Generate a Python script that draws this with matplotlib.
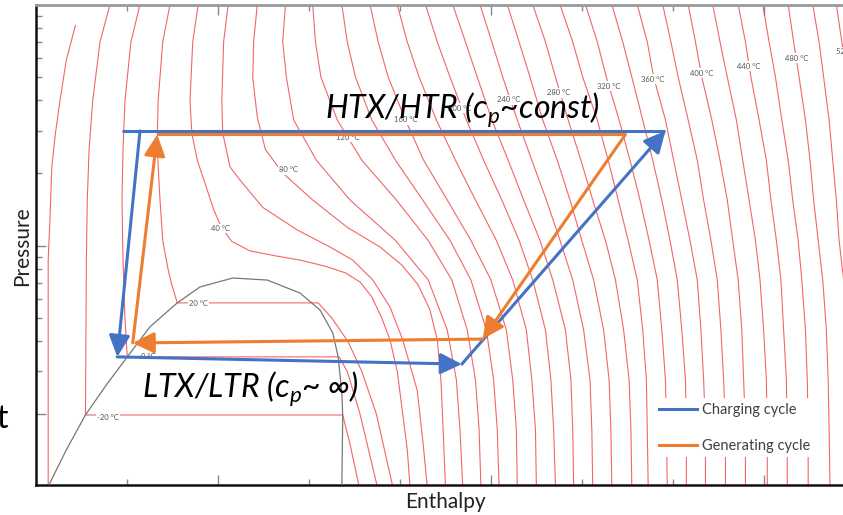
import matplotlib

matplotlib.use("Agg")

import matplotlib.pyplot as plt
from matplotlib.lines import Line2D
from matplotlib.ticker import FixedLocator, NullFormatter

# ---------------------------------------------------------------------------
# Data (CO2 pressure-enthalpy chart)
# enthalpy in kJ/kg, pressure in MPa
# ---------------------------------------------------------------------------

# pressure levels at which the supercritical isotherms were read
ISO_P = [100, 70, 50, 33.2, 22.6, 15.45, 10.5, 7.2, 4.46, 2.77, 1.72, 1.0]

# enthalpy of each supercritical isotherm (degC -> values at ISO_P)
ISO_H = {
    100: [374, 371, 375, 383, 408, 445, 495, 531, 552, 562, 566, 569],
    120: [404, 407, 413, 431, 458, 496, 531, 557, 574, 583, 587, 589],
    140: [436, 442, 451, 469, 495, 525, 555, 578, 595, 603, 607, 609],
    160: [467, 476, 487, 506, 526, 552, 578, 600, 617, 624, 628, 629],
    180: [497, 508, 521, 540, 561, 583, 606, 624, 639, 645, 649, 650],
    200: [528, 541, 555, 573, 592, 612, 631, 646, 660, 666, 669, 671],
    220: [558, 572, 585, 601, 619, 636, 654, 668, 682, 688, 690, 691],
    240: [588, 601, 613, 629, 645, 661, 676, 690, 702, 709, 711, 712],
    260: [618, 631, 643, 657, 673, 687, 700, 713, 724, 730, 732, 733],
    280: [646, 660, 671, 685, 699, 712, 726, 737, 746, 752, 754, 755],
    300: [676, 690, 701, 717, 729, 740, 751, 761, 767, 771, 772, 773],
    320: [704, 717, 727, 741, 753, 764, 774, 783, 788, 792, 793, 794],
    340: [733, 745, 755, 767, 778, 788, 797, 805, 810, 814, 815, 815],
    360: [761, 772, 779, 792, 801, 810, 819, 827, 831, 834, 836, 836],
    380: [789, 798, 806, 817, 827, 834, 842, 849, 853, 856, 858, 858],
    400: [817, 825, 832, 843, 852, 860, 866, 872, 876, 878, 880, 880],
    420: [844, 852, 860, 870, 877, 884, 891, 896, 900, 903, 904, 904],
    440: [872, 880, 886, 895, 903, 908, 914, 919, 922, 925, 926, 926],
    460: [899, 906, 913, 920, 927, 932, 938, 942, 946, 948, 949, 949],
    480: [927, 933, 939, 946, 951, 955, 960, 965, 969, 971, 972, 973],
    500: [954, 961, 966, 972, 976, 980, 983, 988, 993, 995, 996, 997],
    520: [980, 986, 992, 997, 1002, 1005, 1008, 1013, 1017, 1019, 1020, 1021],
}

# low-temperature isotherms (they cross the two-phase dome)
LOW_ISO_H = {
    -40: [143, 133, 126, 121, 117, 115, 113, 113, 113, 113],
    -20: [181, 170, 162, 158, 156, 155, 154.5, 154, 437, 445, 455],
    0: [214, 204, 197.5, 195.3, 194.2, 195.3, 197.5, 200, 433, 442, 456, 475],
    20: [247, 239, 234, 233, 234, 236, 239, 245, 249, 255, 410, 425, 443, 458, 474, 492],
    40: [278, 272, 269, 271, 277, 286, 295, 304, 315, 335, 363, 390, 418, 440, 456,
         469, 480, 489, 497, 503, 508, 511],
    60: [311, 306, 304, 305, 313, 324, 349, 387, 423, 448, 470, 489, 503, 519, 525, 530],
    80: [343, 339, 338, 343, 352, 371, 404, 442, 478, 502, 520, 533, 541, 545, 547, 550],
}
LOW_ISO_P = {
    -40: [82, 59, 40, 29.3, 21.2, 13, 8.7, 4.06, 1.9, 1.0],
    -20: [100, 70, 40, 25, 15.45, 8.7, 4.06, 1.98, 1.98, 1.5, 1.0],
    0: [100, 70, 40, 25, 15.45, 8.7, 4.91, 3.45, 3.45, 3.0, 2.0, 1.0],
    20: [100, 70, 40, 29.3, 21.2, 15.45, 10.5, 7.92, 6.86, 5.78, 5.78, 5.0, 3.98, 3.0, 2.0, 1.0],
    40: [100, 70, 40, 29.3, 22.6, 17.9, 14.1, 11.8, 10.4, 9.5, 9.06, 8.7, 8.2, 7.7, 7.06,
         6.12, 5.0, 4.06, 3.0, 2.0, 1.42, 1.0],
    60: [100, 70, 40, 29.3, 21.2, 18.7, 14.4, 11.6, 9.86, 8.7, 7.2, 5.56, 4.06, 2.5, 1.56, 1.0],
    80: [100, 70, 50, 34.1, 25, 20, 15.45, 11.9, 9.86, 8.3, 6.86, 5.4, 4.06, 2.77, 1.89, 1.0],
}

# saturation dome
DOME_H = [113, 133, 154, 177, 200, 225, 255, 280, 316, 354, 390, 412, 426, 432, 436, 437, 436]
DOME_P = [1.0, 1.42, 1.98, 2.64, 3.45, 4.6, 5.78, 6.73, 7.33, 7.19, 6.35, 5.4, 4.34, 3.45,
          2.44, 1.97, 1.0]

# isotherm labels
ISO_LABELS = ["-20 °C", "0 °C", "20 °C", "40 °C", "80 °C", "120 °C", "160 °C", "200 °C",
              "240 °C", "280 °C", "320 °C", "360 °C", "400 °C", "440 °C", "480 °C", "520 °C"]
ISO_LABEL_H = [179, 223, 278, 302, 377, 443, 506, 566, 619, 674, 729, 778, 832, 884, 936, 992]
ISO_LABEL_P = [1.94, 3.45, 5.72, 11.8, 20.6, 28.2, 33.2, 37.2, 40.2, 43.0, 45.9, 49.1, 52.0,
               55.6, 60.0, 63.6]

# cycles (corner points in drawing order)
CHARGING_H = [214, 189, 568, 792, 194]
CHARGING_P = [29.9, 3.45, 3.22, 29.9, 29.9]
CHARGING_ARROW = [True, True, True, False]

GENERATING_H = [233, 748, 591, 206, 233]
GENERATING_P = [28.9, 28.9, 4.09, 3.94, 28.9]
GENERATING_ARROW = [False, True, True, True]

BLUE = "#4472C4"
ORANGE = "#ED7D31"
RED = "#f24a4a"

plt.rcParams["mathtext.fontset"] = "custom"
plt.rcParams["mathtext.it"] = "Lato:italic"
plt.rcParams["mathtext.rm"] = "Lato"
FONT = ["Lato", "DejaVu Sans"]

W, H = 843, 515
fig = plt.figure(figsize=(W / 100, H / 100), dpi=100)
ax = fig.add_axes([36 / W, 30 / H, 807 / W, 480 / H])
ax.set_yscale("log")
ax.set_xlim(99.6, 987.3)
ax.set_ylim(1.014, 99.6)

# isotherms
for t, hs in ISO_H.items():
    ax.plot(hs, ISO_P, color=RED, lw=0.8, alpha=0.85, zorder=2)
for t, hs in LOW_ISO_H.items():
    ax.plot(hs, LOW_ISO_P[t], color=RED, lw=0.8, alpha=0.85, zorder=2)

ax.plot(DOME_H, DOME_P, color="#777777", lw=0.9, zorder=3)

for txt, h, p in zip(ISO_LABELS, ISO_LABEL_H, ISO_LABEL_P):
    ax.text(h, p, txt, fontsize=5.5, color="#555555", ha="center", va="center",
            family=FONT, zorder=4, clip_on=True,
            bbox=dict(boxstyle="square,pad=0.15", fc="white", ec="none"))


def draw_cycle(hs, ps, arrows, color):
    for i, arrow in enumerate(arrows):
        start = (hs[i], ps[i])
        end = (hs[i + 1], ps[i + 1])
        if arrow:
            ax.annotate("", xy=end, xytext=start, zorder=6,
                        arrowprops=dict(arrowstyle="-|>,head_length=0.65,head_width=0.32",
                                        color=color, lw=2.2, shrinkA=0, shrinkB=0,
                                        mutation_scale=20))
        else:
            ax.plot([start[0], end[0]], [start[1], end[1]], color=color, lw=2.2,
                    solid_capstyle="butt", zorder=6)


draw_cycle(CHARGING_H, CHARGING_P, CHARGING_ARROW, BLUE)
draw_cycle(GENERATING_H, GENERATING_P, GENERATING_ARROW, ORANGE)

# annotations
fig.text(325 / W, 1 - 118 / H, r"HTX/HTR ($c_p$~const)", fontsize=23, style="italic",
         family=FONT, va="baseline", ha="left")
fig.text(142 / W, 1 - 397 / H, r"LTX/LTR ($c_p$~ ∞)", fontsize=23, style="italic",
         family=FONT, va="baseline", ha="left")
fig.text(8 / W, 1 - 428 / H, "t", fontsize=23, family=FONT, va="baseline", ha="right")

fig.text(22 / W, 1 - 246 / H, "Pressure", rotation=90, fontsize=15, family=FONT,
         ha="center", va="center", color="#222222")
fig.text(445 / W, 1 - 502 / H, "Enthalpy", fontsize=15, family=FONT,
         ha="center", va="center", color="#222222")

# legend
handles = [Line2D([], [], color=BLUE, lw=2.2), Line2D([], [], color=ORANGE, lw=2.2)]
leg = ax.legend(handles, ["Charging cycle", "Generating cycle"], loc="lower left",
                bbox_to_anchor=(0.758, 0.043), frameon=True, fancybox=False,
                framealpha=1, edgecolor="none", facecolor="white",
                prop={"family": FONT, "size": 10.5}, handlelength=2.6,
                handletextpad=0.3, labelspacing=1.5, borderpad=0.3)
for t in leg.get_texts():
    t.set_color("#404040")
leg.set_zorder(8)

# axes styling
ax.yaxis.set_major_locator(FixedLocator([2, 10]))
ax.yaxis.set_minor_locator(FixedLocator([3, 4, 5, 6, 7, 8, 9, 20, 30, 40, 50, 60, 70, 80, 90]))
ax.xaxis.set_major_locator(FixedLocator([300, 600, 900]))
ax.xaxis.set_minor_locator(FixedLocator([200, 400, 500, 700, 800]))
ax.xaxis.set_major_formatter(NullFormatter())
ax.xaxis.set_minor_formatter(NullFormatter())
ax.yaxis.set_major_formatter(NullFormatter())
ax.yaxis.set_minor_formatter(NullFormatter())
ax.tick_params(which="both", direction="in", color="#888888", width=1,
               top=True, bottom=True, left=True, right=False)
ax.tick_params(which="major", length=7)
ax.tick_params(which="minor", length=4)

for side in ("left", "bottom"):
    ax.spines[side].set_linewidth(1.8)
    ax.spines[side].set_color("#111111")
ax.spines["top"].set_linewidth(2)
ax.spines["top"].set_color("#9a9a9a")
ax.spines["right"].set_visible(False)

fig.savefig("out.png", dpi=100)
